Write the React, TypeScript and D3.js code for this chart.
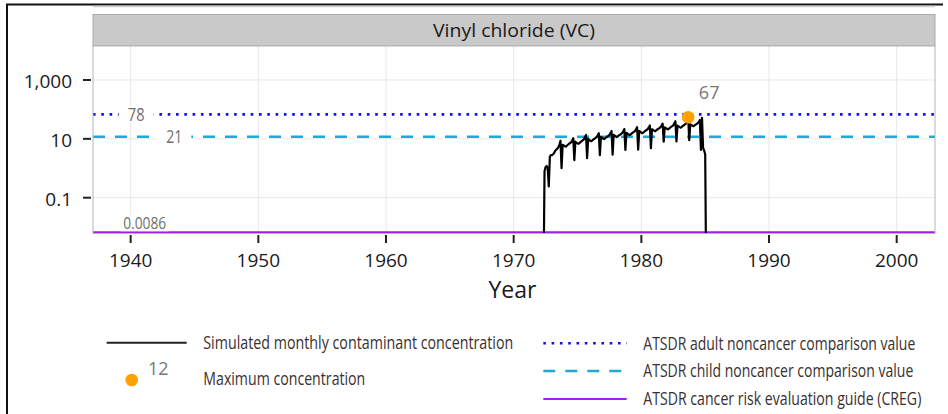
import React from 'react';
import * as d3 from 'd3';

// ---------- data ----------
// Simulated monthly vinyl chloride concentration (µg/L), starting May 1972
const vc1972 = [0.0001, 0.8, 1.1, 1.2, 1.0, 0.24, 2.5, 2.8];
const vc1973 = [2.8, 3.0, 3.3, 3.9, 4.3, 4.6, 5.2, 6.4, 8.5, 1.0, 6.2, 6.0];
const vc1974 = [5.6, 5.4, 5.9, 6.3, 6.8, 7.2, 7.6, 8.8, 10.5, 1.9, 8.0, 7.4];
const vc1975 = [7.0, 6.8, 7.3, 7.9, 8.4, 9.0, 9.6, 11.2, 13.5, 2.2, 10.0, 9.2];
const vc1976 = [8.6, 8.3, 8.9, 9.6, 10.2, 10.8, 11.6, 13.3, 15.5, 2.8, 11.8, 11.0];
const vc1977 = [10.2, 9.8, 10.5, 11.3, 12.0, 12.7, 13.5, 15.6, 18.5, 2.9, 13.6, 12.8];
const vc1978 = [12.0, 11.5, 12.3, 13.2, 14.0, 14.8, 15.8, 18.2, 21.5, 4.2, 16.0, 15.0];
const vc1979 = [14.0, 13.4, 14.3, 15.3, 16.3, 17.2, 18.3, 21.0, 25.0, 4.3, 18.5, 17.4];
const vc1980 = [16.2, 15.5, 16.6, 17.8, 18.9, 20.0, 21.3, 24.4, 28.5, 4.8, 21.2, 20.0];
const vc1981 = [19.0, 18.2, 19.5, 20.8, 22.0, 23.3, 24.8, 28.4, 33.0, 8.0, 24.5, 23.0];
const vc1982 = [22.0, 21.0, 22.4, 24.0, 25.5, 27.0, 29.0, 33.5, 40.0, 8.2, 28.0, 26.5];
const vc1983 = [25.0, 24.0, 25.6, 27.4, 29.0, 31.0, 33.5, 40.0, 54.0, 9.0, 31.0, 29.5];
const vc1984 = [28.0, 27.0, 28.8, 30.5, 32.0, 34.0, 37.0, 44.0, 4.2, 52.0, 5.0, 4.0];
const vc1985 = [3.0, 0.0001];
const seriesStartYear = 1972;
const seriesStartMonth = 4; // May

const xTicks = [1940, 1950, 1960, 1970, 1980, 1990, 2000];
const yTicks = [1000, 10, 0.1];
const yTickLabels = ['1,000', '10', '0.1'];

// reference lines: plotted level, printed label, label position (year)
const refKeys = ['adult', 'child', 'creg'];
const refLevels = [68, 11.8, 0.0067];
const refLabels = ['78', '21', '0.0086'];
const refLabelYears = [1940.43, 1943.42, 1941.1];
const refColors = ['#1010f0', '#22a8d8', '#a020f0'];
const refDash = ['2.6 5.7', '12 10', 'none'];

const maxLabel = '67';
const panelTitle = 'Vinyl chloride (VC)';
const xTitle = 'Year';

const legendLeft = ['Simulated monthly contaminant concentration', 'Maximum concentration'];
const legendRight = [
  'ATSDR adult noncancer comparison value',
  'ATSDR child noncancer comparison value',
  'ATSDR cancer risk evaluation guide (CREG)',
];
const legendDotLabel = '12';

// ---------- layout ----------
const W = 948;
const H = 414;
const P = { left: 93, right: 935, top: 46, bottom: 233.5 };
const STRIP_TOP = 14.5;
const FONT = "'Open Sans', 'Noto Sans', sans-serif";

function CondText({ x, y, text, width, size = 13.5, sy = 1.37 }: any) {
  return (
    <text
      transform={`translate(${x},${y}) scale(1,${sy})`}
      x={0}
      y={0}
      dy="0.35em"
      fontSize={size}
      fill="#3a3030"
      textLength={width}
      lengthAdjust="spacingAndGlyphs"
    >
      {text}
    </text>
  );
}

export default function App() {
  const monthly = [
    ...vc1972, ...vc1973, ...vc1974, ...vc1975, ...vc1976, ...vc1977, ...vc1978,
    ...vc1979, ...vc1980, ...vc1981, ...vc1982, ...vc1983, ...vc1984, ...vc1985,
  ];
  const data = monthly.map((v, i) => ({ t: seriesStartYear + (seriesStartMonth + i) / 12, v }));

  const x = d3.scaleLinear().domain([1937.05, 2003.0]).range([P.left, P.right]);
  const y = d3.scaleLog().domain([0.00607, 14300]).range([P.bottom, P.top]);

  const line = d3
    .line<{ t: number; v: number }>()
    .x((d) => x(d.t))
    .y((d) => y(d.v));

  const maxPt = data.reduce((a, b) => (b.v > a.v ? b : a), data[0]);

  const labelW = [35, 34, 48];
  const labelTextW = [16.7, 16, 43];

  return (
    <svg
      width={W}
      height={H}
      style={{ position: 'absolute', left: 0, top: 0, background: '#fff' }}
      fontFamily={FONT}
    >
      <defs>
        <clipPath id="panelClip">
          <rect x={P.left} y={P.top} width={P.right - P.left} height={P.bottom - P.top} />
        </clipPath>
      </defs>
      <rect x={0} y={0} width={W} height={H} fill="#fff" />

      {/* outer frame (cropped) */}
      <path d={`M7,${H} V4.5 H943`} fill="none" stroke="#111" strokeWidth={2} />
      <line x1={P.left} x2={P.right} y1={6.5} y2={6.5} stroke="#cfcfcf" strokeWidth={1.5} />

      {/* strip */}
      <rect
        x={P.left}
        y={STRIP_TOP}
        width={P.right - P.left}
        height={P.top - STRIP_TOP}
        fill="#c9c9c9"
        stroke="#a9a9a9"
        strokeWidth={1}
      />
      <text
        x={(P.left + P.right) / 2}
        y={31}
        dy="0.35em"
        textAnchor="middle"
        fontSize={18}
        fill="#1a1a1a"
        textLength={162}
        lengthAdjust="spacingAndGlyphs"
      >
        {panelTitle}
      </text>

      {/* panel */}
      <rect x={P.left} y={P.top} width={P.right - P.left} height={P.bottom - P.top} fill="#fff" />
      {xTicks.map((t) => (
        <line key={'gx' + t} x1={x(t)} x2={x(t)} y1={P.top} y2={P.bottom} stroke="#e8e8e8" strokeWidth={1} />
      ))}
      {yTicks.map((t) => (
        <line key={'gy' + t} x1={P.left} x2={P.right} y1={y(t)} y2={y(t)} stroke="#e8e8e8" strokeWidth={1} />
      ))}

      <g clipPath="url(#panelClip)">
        {refLevels.map((lv, i) => (
          <line
            key={refKeys[i]}
            x1={P.left}
            x2={P.right}
            y1={y(lv)}
            y2={y(lv)}
            stroke={refColors[i]}
            strokeWidth={i === 2 ? 2 : 2.6}
            strokeDasharray={refDash[i]}
            strokeLinecap="butt"
          />
        ))}
        <path d={line(data) || ''} fill="none" stroke="#000" strokeWidth={2.2} strokeLinejoin="round" />
      </g>

      {/* reference labels */}
      {refLevels.map((lv, i) => {
        const cx = x(refLabelYears[i]);
        const cy = i === 2 ? y(lv) - 9 : y(lv);
        return (
          <g key={'lab' + i}>
            <rect x={cx - labelW[i] / 2} y={cy - 8} width={labelW[i]} height={16} fill="#fff" />
            <text
              x={cx}
              y={cy}
              dy="0.35em"
              textAnchor="middle"
              fontSize={i === 2 ? 17 : 19}
              fill="#6e6e6e"
              textLength={labelTextW[i]}
              lengthAdjust="spacingAndGlyphs"
            >
              {refLabels[i]}
            </text>
          </g>
        );
      })}

      {/* maximum */}
      <circle cx={x(maxPt.t)} cy={y(maxPt.v)} r={6.3} fill="#ffa100" />
      <text
        x={x(maxPt.t) + 21}
        y={y(maxPt.v) - 25}
        dy="0.35em"
        textAnchor="middle"
        fontSize={18}
        fill="#777"
      >
        {maxLabel}
      </text>

      <rect x={P.left} y={P.top} width={P.right - P.left} height={P.bottom - P.top} fill="none" stroke="#b5b5b5" strokeWidth={1} />

      {/* y axis */}
      {yTicks.map((t, i) => (
        <g key={'yt' + t}>
          <line x1={83} x2={91} y1={y(t)} y2={y(t)} stroke="#222" strokeWidth={2} />
          <text x={72} y={y(t) + 1.5} dy="0.35em" textAnchor="end" fontSize={19} fill="#1a1a1a">
            {yTickLabels[i]}
          </text>
        </g>
      ))}

      {/* x axis */}
      {xTicks.map((t) => (
        <g key={'xt' + t}>
          <line x1={x(t)} x2={x(t)} y1={235} y2={243} stroke="#222" strokeWidth={2} />
          <text x={x(t)} y={260} dy="0.35em" textAnchor="middle" fontSize={19} fill="#1a1a1a">
            {t}
          </text>
        </g>
      ))}
      <text x={(P.left + P.right) / 2 - 1.5} y={290} dy="0.35em" textAnchor="middle" fontSize={23} fill="#1a1a1a">
        {xTitle}
      </text>

      {/* legend left */}
      <line x1={106.7} x2={186.7} y1={342.7} y2={342.7} stroke="#222" strokeWidth={2} />
      <circle cx={131.7} cy={380} r={6.3} fill="#ffa100" />
      <text x={148} y={369} dy="0.35em" fontSize={18} fill="#777">
        {legendDotLabel}
      </text>
      {legendLeft.map((s, i) => (
        <CondText key={s} x={203.3} y={i === 0 ? 343 : 378.5} text={s} width={i === 0 ? 310 : 162} />
      ))}

      {/* legend right */}
      {legendRight.map((s, i) => {
        const ly = [343.3, 371, 399][i];
        return (
          <g key={s}>
            <line
              x1={543.3}
              x2={626.7}
              y1={ly}
              y2={ly}
              stroke={refColors[i]}
              strokeWidth={i === 2 ? 2 : 2.6}
              strokeDasharray={refDash[i]}
            />
            <CondText x={643.3} y={ly} text={s} width={[272, 270, 278][i]} />
          </g>
        );
      })}
    </svg>
  );
}
